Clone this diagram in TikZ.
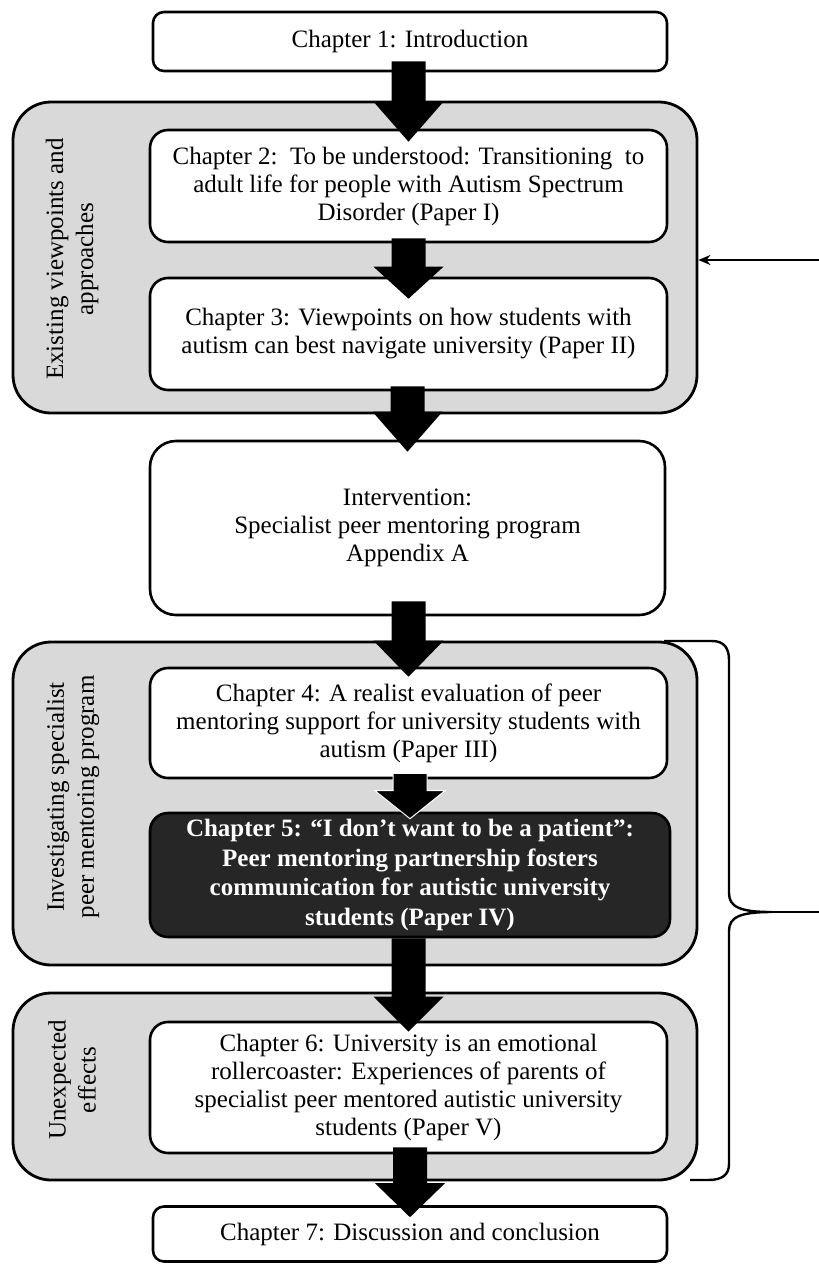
\documentclass[tikz,border=0pt]{standalone}
\usepackage{fontspec}
\setmainfont{Liberation Serif}
\usetikzlibrary{calc,arrows.meta}
\definecolor{grpfill}{HTML}{D9D9D9}
\definecolor{darkfill}{HTML}{262626}

% block arrow from the bottom of one node to the top of the next
% #2 source node, #3 target node, #4 start offset, #5 tip offset, #6 head length
\newcommand{\flowarrow}[6][]{%
  \fill[flowarr,#1] let \p1=($(#2.south)+(0,#4)$), \p2=($(#3.north)+(0,#5)$) in
    (\x2-17pt,\y1) -- (\x2+17pt,\y1) -- (\x2+17pt,\y2+#6pt) -- (\x2+35pt,\y2+#6pt)
    -- (\x2,\y2) -- (\x2-35pt,\y2+#6pt) -- (\x2-17pt,\y2+#6pt) -- cycle;}

\begin{document}
\begin{tikzpicture}[x=1pt,y=-1pt,
  txt/.style={font=\fontsize{25}{28}\selectfont, align=center},
  chbox/.style={txt, draw, fill=white, line width=2.6pt, rounded corners=18pt, inner sep=0pt},
  darkbox/.style={chbox, fill=darkfill, text=white, font=\fontsize{25}{29.5}\selectfont\bfseries},
  group/.style={draw, fill=grpfill, line width=2.8pt, rounded corners=38pt, inner sep=0pt},
  sidelabel/.style={font=\fontsize{25}{30}\selectfont, align=center, rotate=90},
  flowarr/.style={fill=black},
  bracket/.style={draw, line width=2.4pt}
]
\useasboundingbox (0,0) rectangle (819,1266);

% grey grouping panels
\node[group, minimum width=684pt, minimum height=311pt] (g1) at (355,257.5) {};
\node[group, minimum width=684pt, minimum height=323pt] (g2) at (355,803.5) {};
\node[group, minimum width=684pt, minimum height=187pt] (g3) at (355,1086.5) {};

% panel labels
\node[sidelabel] (l1) at (72,259) {Existing viewpoints and\\approaches};
\node[sidelabel] (l2) at (73,797) {Investigating specialist\\peer mentoring program};
\node[sidelabel] (l3) at (72,1080) {Unexpected\\effects};

% chapter boxes
\node[chbox, rounded corners=11pt, minimum width=514pt, minimum height=59pt] (ch1) at (410,41.5)
  {Chapter 1: Introduction};
\node[chbox, minimum width=517pt, minimum height=112pt] (ch2) at (408.5,186)
  {Chapter 2:\ \ To be understood: Transitioning\ \ to\\adult life for people with Autism Spectrum\\Disorder (Paper I)};
\node[chbox, minimum width=517pt, minimum height=112pt] (ch3) at (408.5,334)
  {Chapter 3: Viewpoints on how students with\\autism can best navigate university (Paper II)};
\node[chbox, rounded corners=26pt, minimum width=515pt, minimum height=174pt] (int) at (407.5,528)
  {Intervention:\\Specialist peer mentoring program\\Appendix A};
\node[chbox, minimum width=517pt, minimum height=110pt] (ch4) at (408.5,723)
  {Chapter 4: A realist evaluation of peer\\mentoring support for university students with\\autism (Paper III)};
\node[darkbox, minimum width=520pt, minimum height=124pt] (ch5) at (410,875)
  {Chapter 5: “I don’t want to be a patient”:\\Peer mentoring partnership fosters\\communication for autistic university\\students (Paper IV)};
\node[chbox, minimum width=517pt, minimum height=131pt] (ch6) at (408.5,1087.5)
  {Chapter 6: University is an emotional\\rollercoaster: Experiences of parents of\\specialist peer mentored autistic university\\students (Paper V)};
\node[chbox, rounded corners=11pt, minimum width=514pt, minimum height=55pt] (ch7) at (410,1234)
  {Chapter 7: Discussion and conclusion};

% block arrows between the chapters
\flowarrow{ch1}{ch2}{-11}{13}{40}
\flowarrow{ch2}{ch3}{-5}{22}{32}
\flowarrow{ch3}{int}{-5}{12}{40}
\flowarrow{int}{ch4}{-15}{10}{36}
\flowarrow[draw=white, line width=1pt]{ch4}{ch5}{-6}{7}{28}
\flowarrow{ch5}{ch6}{0}{11}{35}
\flowarrow{ch6}{ch7}{-7}{12}{34}

% feedback arrow into the first panel
\coordinate (fb) at (819,260);
\draw[line width=2pt, -{Stealth[length=12pt,width=10pt]}] (fb) -- (fb -| g1.east);

% curly bracket spanning the second and third panels
\coordinate (bt) at (819,912);
\draw[bracket] (664,641) -- (712,641) .. controls (724,641) and (729,648) .. (729,660)
  -- (729,893) .. controls (729,907) and (740,912) .. (772,912)
  .. controls (740,912) and (729,917) .. (729,931)
  -- (729,1164) .. controls (729,1175) and (722,1180) .. (708,1180) -- (690,1180);
\draw[bracket] (772,912) -- (bt);
\end{tikzpicture}
\end{document}
